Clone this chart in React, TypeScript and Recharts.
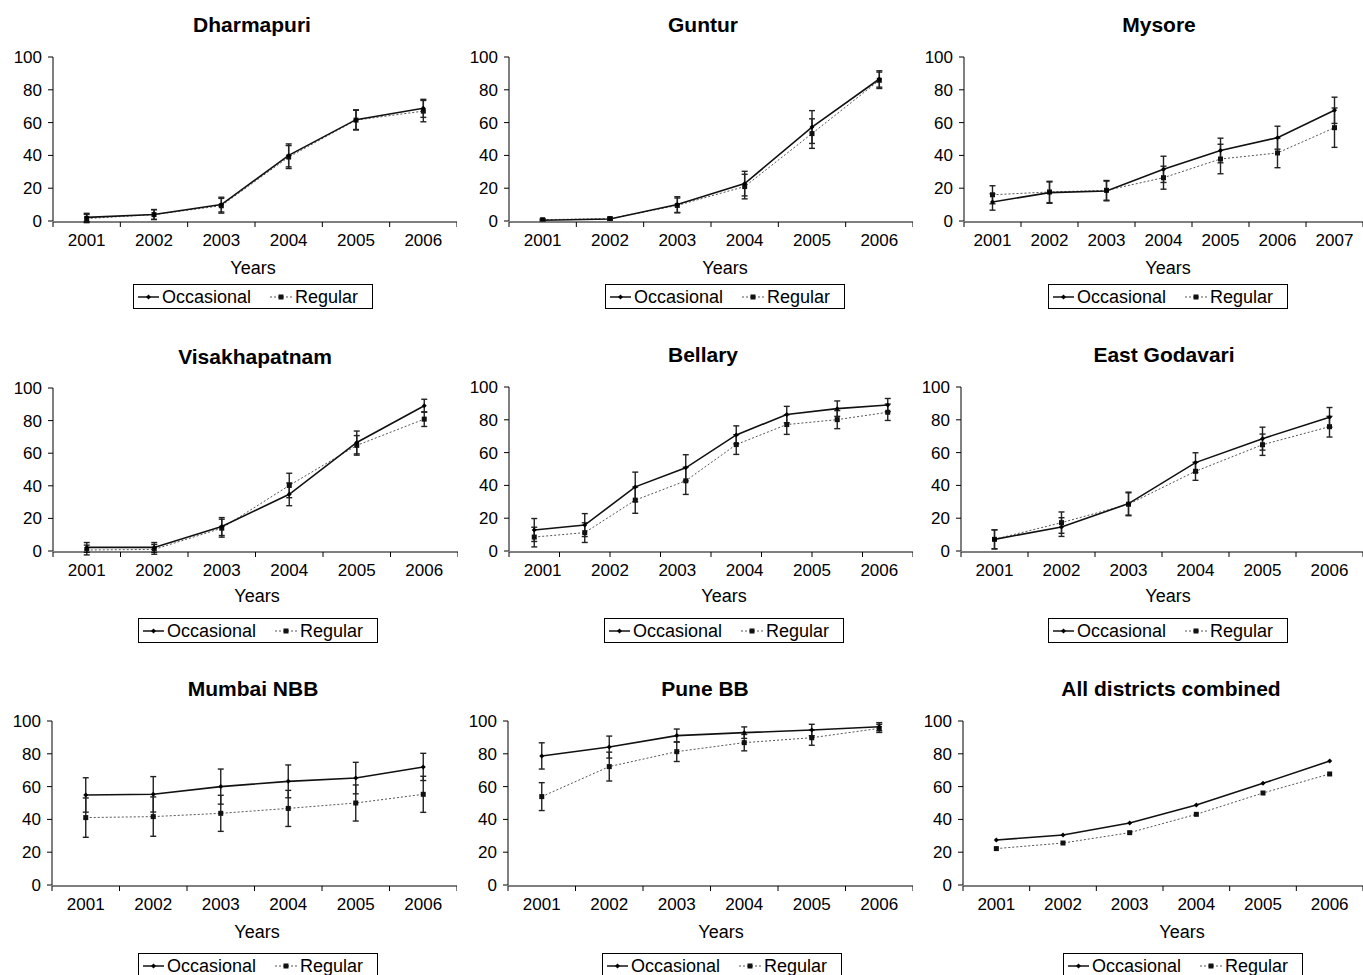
import { LineChart, Line, XAxis, YAxis, ErrorBar, Legend } from "recharts"

const years6 = ["2001", "2002", "2003", "2004", "2005", "2006"]
const years7 = ["2001", "2002", "2003", "2004", "2005", "2006", "2007"]
const yTicks = [0, 20, 40, 60, 80, 100]

// values (percent), errors are +/- half widths
const dharmapuriOcc = [2.2, 4, 10, 40, 61.8, 68.7]
const dharmapuriReg = [1.5, 3.9, 9.3, 39, 61.5, 67]
const dharmapuriOccErr = [2.5, 3, 4.5, 7, 6, 5.5]
const dharmapuriRegErr = [2.5, 3, 4.5, 7, 6, 6.5]

const gunturOcc = [0.5, 1.2, 10, 22.8, 57.3, 86.6]
const gunturReg = [0.8, 1.5, 9.5, 21, 53.3, 85.8]
const gunturOccErr = [0.5, 0.8, 4.8, 7.5, 10, 5]
const gunturRegErr = [0.5, 0.8, 4.5, 7.5, 9, 5]

const mysoreOcc = [11.6, 17.3, 18.3, 31.5, 43, 50.8, 67.5]
const mysoreReg = [16, 17.7, 18.7, 26.4, 37.8, 41.5, 56.9]
const mysoreOccErr = [5, 6.5, 6, 8, 7.5, 7, 8]
const mysoreRegErr = [5.5, 6.5, 6, 7, 9, 9, 12]

const visakhaOcc = [2.2, 2.2, 15, 34.8, 66.6, 89.1]
const visakhaReg = [0.6, 1, 14, 40.2, 64.8, 80.9]
const visakhaOccErr = [3, 3, 5.5, 7, 7, 4]
const visakhaRegErr = [3, 3, 5.5, 7.5, 6, 4.5]

// Bellary has 8 points drawn over 6 year labels
const bellaryOcc = [12.8, 15.8, 39.1, 50.7, 70.8, 83.2, 86.8, 89]
const bellaryReg = [8.5, 11.2, 31, 42.8, 64.9, 77.1, 80.1, 84.6]
const bellaryOccErr = [7, 7, 9, 8, 5.5, 5, 4.7, 4]
const bellaryRegErr = [6, 6, 8, 8.3, 6, 6, 5.5, 5]

const godavariOcc = [7.1, 14.6, 28.9, 53.9, 68.5, 81.5]
const godavariReg = [7.1, 17.3, 28.5, 48.6, 64.8, 75.8]
const godavariOccErr = [5.8, 5.7, 7, 6, 7, 6]
const godavariRegErr = [5.8, 6.5, 7, 5.5, 6.5, 6.3]

const mumbaiOcc = [54.9, 55.3, 60, 63.2, 65.2, 72]
const mumbaiReg = [41.1, 41.7, 43.7, 46.7, 50, 55.3]
const mumbaiOccErr = [10.5, 10.8, 10.7, 10, 9.6, 8.3]
const mumbaiRegErr = [12, 12, 11, 11, 11, 11]

const puneOcc = [78.7, 84.1, 91.1, 92.9, 94.5, 96.5]
const puneReg = [53.9, 72.2, 81.3, 86.8, 89.8, 95.5]
const puneOccErr = [8, 6.7, 4, 3.5, 3.5, 2.5]
const puneRegErr = [8.5, 8.8, 6, 5, 4.6, 2.5]

const allOcc = [27.4, 30.5, 37.8, 48.8, 62, 75.6]
const allReg = [22.2, 25.6, 31.9, 43.1, 56.1, 67.7]

interface Panel {
  title: string
  labels: string[]
  occ: number[]
  reg: number[]
  occErr?: number[]
  regErr?: number[]
  px: number
  py: number
  pw: number
  ph: number
  titleX: number
  titleY: number
  yearsX: number
  yearsY: number
  legX: number
  legY: number
}

const panels: Panel[] = [
  { title: "Dharmapuri", labels: years6, occ: dharmapuriOcc, reg: dharmapuriReg, occErr: dharmapuriOccErr, regErr: dharmapuriRegErr,
    px: 53, py: 57, pw: 404, ph: 164, titleX: 252, titleY: 25, yearsX: 253, yearsY: 268, legX: 133, legY: 284 },
  { title: "Guntur", labels: years6, occ: gunturOcc, reg: gunturReg, occErr: gunturOccErr, regErr: gunturRegErr,
    px: 509, py: 57, pw: 404, ph: 164, titleX: 703, titleY: 25, yearsX: 725, yearsY: 268, legX: 605, legY: 284 },
  { title: "Mysore", labels: years7, occ: mysoreOcc, reg: mysoreReg, occErr: mysoreOccErr, regErr: mysoreRegErr,
    px: 964, py: 57, pw: 399, ph: 164, titleX: 1159, titleY: 25, yearsX: 1168, yearsY: 268, legX: 1048, legY: 284 },
  { title: "Visakhapatnam", labels: years6, occ: visakhaOcc, reg: visakhaReg, occErr: visakhaOccErr, regErr: visakhaRegErr,
    px: 53, py: 388, pw: 405, ph: 163, titleX: 255, titleY: 357, yearsX: 257, yearsY: 596, legX: 138, legY: 618 },
  { title: "Bellary", labels: years6, occ: bellaryOcc, reg: bellaryReg, occErr: bellaryOccErr, regErr: bellaryRegErr,
    px: 509, py: 387, pw: 404, ph: 164, titleX: 703, titleY: 355, yearsX: 724, yearsY: 596, legX: 604, legY: 618 },
  { title: "East Godavari", labels: years6, occ: godavariOcc, reg: godavariReg, occErr: godavariOccErr, regErr: godavariRegErr,
    px: 961, py: 387, pw: 402, ph: 164, titleX: 1164, titleY: 355, yearsX: 1168, yearsY: 596, legX: 1048, legY: 618 },
  { title: "Mumbai NBB", labels: years6, occ: mumbaiOcc, reg: mumbaiReg, occErr: mumbaiOccErr, regErr: mumbaiRegErr,
    px: 52, py: 721, pw: 405, ph: 164, titleX: 253, titleY: 689, yearsX: 257, yearsY: 932, legX: 138, legY: 953 },
  { title: "Pune BB", labels: years6, occ: puneOcc, reg: puneReg, occErr: puneOccErr, regErr: puneRegErr,
    px: 508, py: 721, pw: 405, ph: 164, titleX: 705, titleY: 689, yearsX: 721, yearsY: 932, legX: 602, legY: 953 },
  { title: "All districts combined", labels: years6, occ: allOcc, reg: allReg,
    px: 963, py: 721, pw: 400, ph: 164, titleX: 1171, titleY: 689, yearsX: 1182, yearsY: 932, legX: 1063, legY: 953 },
]

const OccDot = (p: any) => {
  const { cx, cy } = p
  if (cx == null || cy == null) return <g />
  return <path d={`M${cx},${cy - 2.5}L${cx + 2.5},${cy}L${cx},${cy + 2.5}L${cx - 2.5},${cy}Z`} fill="#000" />
}

const RegDot = (p: any) => {
  const { cx, cy } = p
  if (cx == null || cy == null) return <g />
  return <rect x={cx - 2.5} y={cy - 2.5} width={5} height={5} fill="#111" />
}

const LegendBox = () => (
  <div
    style={{
      boxSizing: "border-box",
      width: 240,
      height: 25,
      border: "1px solid #000",
      background: "#fff",
      display: "flex",
      alignItems: "center",
      paddingLeft: 4,
      fontSize: 18,
      lineHeight: 1,
      color: "#000",
    }}
  >
    <svg width={21} height={8}>
      <line x1={0} y1={4} x2={21} y2={4} stroke="#000" strokeWidth={1.4} />
      <path d="M10.5,1.5L13,4L10.5,6.5L8,4Z" fill="#000" />
    </svg>
    <span style={{ marginLeft: 3 }}>Occasional</span>
    <svg width={22} height={8} style={{ marginLeft: 19 }}>
      <line x1={0} y1={4} x2={22} y2={4} stroke="#555" strokeWidth={1} strokeDasharray="2 2" />
      <rect x={8.5} y={1.5} width={5} height={5} fill="#111" />
    </svg>
    <span style={{ marginLeft: 3 }}>Regular</span>
  </div>
)

function PanelChart({ p }: { p: Panel }) {
  const n = p.occ.length
  const rows = p.occ.map((v, i) => ({
    x: i + 0.5,
    occ: v,
    reg: p.reg[i],
    occErr: p.occErr ? p.occErr[i] : undefined,
    regErr: p.regErr ? p.regErr[i] : undefined,
  }))
  const left = p.px - 60
  const top = p.py - 20
  const width = p.pw + 60
  const height = p.legY + 27 - top
  const edgeTicks = Array.from({ length: n + 1 }, (_, i) => i)
  const labelTicks = p.labels.map((_, i) => i + 0.5)

  return (
    <>
      <div
        style={{
          position: "absolute",
          left: p.titleX,
          top: p.titleY,
          transform: "translate(-50%, -50%)",
          fontWeight: "bold",
          fontSize: 21,
          whiteSpace: "nowrap",
        }}
      >
        {p.title}
      </div>
      <div
        style={{
          position: "absolute",
          left: p.yearsX,
          top: p.yearsY,
          transform: "translate(-50%, -50%)",
          fontSize: 18,
        }}
      >
        Years
      </div>
      <div style={{ position: "absolute", left, top }}>
        <LineChart
          width={width}
          height={height}
          data={rows}
          margin={{ top: 20, right: 0, left: 0, bottom: height - 20 - p.ph - 2 }}
        >
          <XAxis
            xAxisId="pts"
            dataKey="x"
            type="number"
            domain={[0, n]}
            ticks={edgeTicks}
            interval={0}
            tickFormatter={() => ""}
            height={1}
            tickSize={5}
            axisLine={{ stroke: "#000" }}
            tickLine={{ stroke: "#000" }}
            allowDataOverflow
          />
          <XAxis
            xAxisId="lab"
            dataKey="x"
            type="number"
            domain={[0, p.labels.length]}
            ticks={labelTicks}
            interval={0}
            tickFormatter={(v: number) => p.labels[Math.floor(v)]}
            height={1}
            axisLine={false}
            tickLine={false}
            tickSize={5}
            tickMargin={8}
            tick={{ fill: "#000", fontSize: 17 }}
            allowDataOverflow
          />
          <YAxis
            domain={[0, 100]}
            ticks={yTicks}
            interval={0}
            width={60}
            tickSize={5}
            tickMargin={6}
            axisLine={{ stroke: "#000" }}
            tickLine={{ stroke: "#000" }}
            tick={{ fill: "#000", fontSize: 17 }}
            allowDataOverflow
          />
          <Legend
            layout="horizontal"
            verticalAlign="middle"
            align="center"
            content={() => <LegendBox />}
            wrapperStyle={{ left: p.legX - left, top: p.legY - top, width: 240, height: 25 }}
          />
          <Line
            xAxisId="pts"
            type="linear"
            dataKey="reg"
            name="Regular"
            stroke="#555"
            strokeWidth={1}
            strokeDasharray="2 2"
            dot={RegDot}
            activeDot={false}
            isAnimationActive={false}
          >
            {p.regErr && (
              <ErrorBar dataKey="regErr" direction="y" width={3} stroke="#222" strokeWidth={1.4} isAnimationActive={false} />
            )}
          </Line>
          <Line
            xAxisId="pts"
            type="linear"
            dataKey="occ"
            name="Occasional"
            stroke="#111"
            strokeWidth={1.6}
            dot={OccDot}
            activeDot={false}
            isAnimationActive={false}
          >
            {p.occErr && (
              <ErrorBar dataKey="occErr" direction="y" width={3} stroke="#222" strokeWidth={1.4} isAnimationActive={false} />
            )}
          </Line>
        </LineChart>
      </div>
    </>
  )
}

export default function App() {
  return (
    <div
      style={{
        position: "absolute",
        left: 0,
        top: 0,
        width: 1363,
        height: 975,
        overflow: "hidden",
        background: "#fff",
        color: "#000",
        fontFamily: '"Liberation Sans", Arial, sans-serif',
      }}
    >
      {panels.map((p) => (
        <PanelChart key={p.title} p={p} />
      ))}
    </div>
  )
}
